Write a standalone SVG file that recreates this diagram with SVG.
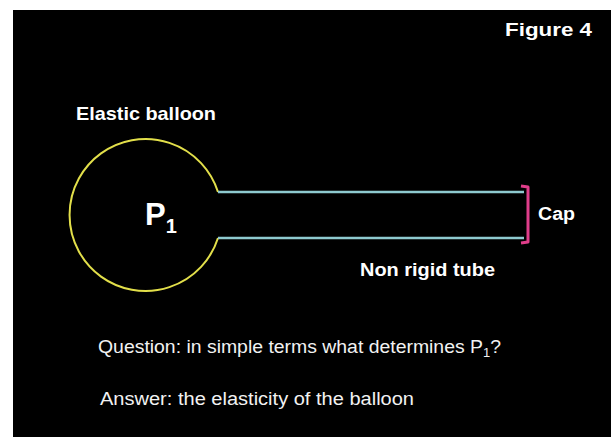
<svg xmlns="http://www.w3.org/2000/svg" width="611" height="437" viewBox="0 0 611 437">
<style>
.b{font-family:"Liberation Sans",Arial,sans-serif;font-weight:bold;fill:#fff}
.n{font-family:"Liberation Sans",Arial,sans-serif;fill:#f2f2f2;font-size:18px}
</style>
<rect x="0" y="0" width="611" height="437" fill="#fff"/>
<rect x="13" y="10" width="598" height="427" fill="#000"/>
<g id="balloon">
<path d="M218,192 A76,76 0 1 0 218,238" fill="none" stroke="#e2df4a" stroke-width="2"/>
<text class="b" x="145" y="225" font-size="31">P<tspan font-size="20" dy="8">1</tspan></text>
</g>
<g id="tube">
<line x1="218" y1="192" x2="524" y2="192" stroke="#8ec9cf" stroke-width="2.5"/>
<line x1="218" y1="238" x2="524" y2="238" stroke="#8ec9cf" stroke-width="2.5"/>
</g>
<g id="cap">
<path d="M521,186 L528,187 L528,242 L521,243" fill="none" stroke="#df3d8a" stroke-width="3" stroke-linejoin="round"/>
<text class="b" x="538" y="220" font-size="18" textLength="37" lengthAdjust="spacingAndGlyphs">Cap</text>
</g>
<text class="b" x="505" y="36" font-size="19" textLength="87" lengthAdjust="spacingAndGlyphs">Figure 4</text>
<text class="b" x="76" y="120" font-size="19" textLength="140" lengthAdjust="spacingAndGlyphs">Elastic balloon</text>
<text class="b" x="360" y="276" font-size="19" textLength="135" lengthAdjust="spacingAndGlyphs">Non rigid tube</text>
<text class="n" x="98" y="353" textLength="403" lengthAdjust="spacingAndGlyphs">Question: in simple terms what determines P<tspan font-size="12" dy="4">1</tspan><tspan dy="-4">?</tspan></text>
<text class="n" x="100" y="405" textLength="314" lengthAdjust="spacingAndGlyphs">Answer: the elasticity of the balloon</text>
</svg>
